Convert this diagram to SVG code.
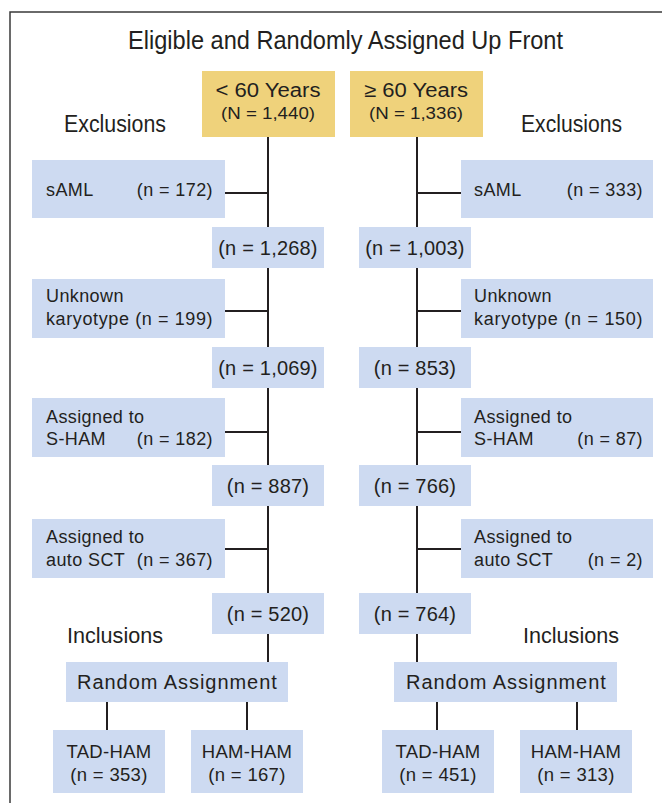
<svg xmlns="http://www.w3.org/2000/svg" width="662" height="803" viewBox="0 0 662 803">
<style>
.bg{fill:#ffffff}
.frame{fill:none;stroke:#3a3a3a;stroke-width:1.5}
.yel{fill:#efd27b}
.blu{fill:#cddaf1}
.ln{stroke:#231f20;stroke-width:2;fill:none}
.cond{font-family:"Liberation Sans",Arial,sans-serif;fill:#231f20}
.t{font-family:"Liberation Sans",Arial,sans-serif;fill:#231f20;font-size:18px;letter-spacing:0.4px}
.c{font-family:"Liberation Sans",Arial,sans-serif;fill:#231f20;font-size:20px;letter-spacing:0.2px;text-anchor:middle}
.b{font-family:"Liberation Sans",Arial,sans-serif;fill:#231f20;font-size:18.5px;letter-spacing:0.3px;text-anchor:middle}
.m{text-anchor:middle}
.e{text-anchor:end}
</style>
<rect class="bg" x="0" y="0" width="662" height="803"/>
<path class="frame" d="M10,803 V12 H662"/>
<text class="cond m" x="345.5" y="49" font-size="26" textLength="435" lengthAdjust="spacingAndGlyphs">Eligible and Randomly Assigned Up Front</text>
<text class="cond" x="64" y="132" font-size="23" textLength="102" lengthAdjust="spacingAndGlyphs">Exclusions</text>
<text class="cond" x="521" y="132" font-size="23" textLength="101" lengthAdjust="spacingAndGlyphs">Exclusions</text>
<text class="cond" x="67" y="643" font-size="22.5" textLength="96" lengthAdjust="spacingAndGlyphs">Inclusions</text>
<text class="cond" x="523" y="643" font-size="22.5" textLength="96" lengthAdjust="spacingAndGlyphs">Inclusions</text>
<g id="connectors">
<path class="ln" d="M268,137 V662"/>
<path class="ln" d="M417,137 V662"/>
<path class="ln" d="M225,193 H268 M225,311 H268 M225,432 H268 M225,549 H268"/>
<path class="ln" d="M417,193 H461 M417,311 H461 M417,432 H461 M417,549 H461"/>
<path class="ln" d="M107,702 V730 M247,702 V730"/>
<path class="ln" d="M437,702 V730 M577,702 V730"/>
</g>
<g id="young">
<rect class="yel" x="202" y="71" width="133" height="66"/>
<text class="cond m" x="268" y="97" font-size="20" textLength="105" lengthAdjust="spacingAndGlyphs">&lt; 60 Years</text>
<text class="cond m" x="268" y="119" font-size="16.5" textLength="94" lengthAdjust="spacingAndGlyphs">(N = 1,440)</text>
</g>
<g id="old">
<rect class="yel" x="350" y="71" width="133" height="66"/>
<text class="cond m" x="416" y="97" font-size="20" textLength="104" lengthAdjust="spacingAndGlyphs">≥ 60 Years</text>
<text class="cond m" x="416" y="119" font-size="16.5" textLength="94" lengthAdjust="spacingAndGlyphs">(N = 1,336)</text>
</g>
<g id="exL1"><rect class="blu" x="32" y="160" width="193" height="58"/><text class="t" x="46" y="196">sAML</text><text class="t e" x="213" y="196">(n = 172)</text></g>
<g id="exL2"><rect class="blu" x="32" y="279" width="193" height="59"/><text class="t" x="46" y="302">Unknown</text><text class="t" x="46" y="325" textLength="167">karyotype (n = 199)</text></g>
<g id="exL3"><rect class="blu" x="32" y="398" width="193" height="59"/><text class="t" x="46" y="423">Assigned to</text><text class="t" x="46" y="445">S-HAM</text><text class="t e" x="213" y="445">(n = 182)</text></g>
<g id="exL4"><rect class="blu" x="32" y="519" width="193" height="59"/><text class="t" x="46" y="543">Assigned to</text><text class="t" x="46" y="566">auto SCT</text><text class="t e" x="213" y="566">(n = 367)</text></g>
<g id="exR1"><rect class="blu" x="461" y="160" width="192" height="58"/><text class="t" x="474" y="196">sAML</text><text class="t e" x="643" y="196">(n = 333)</text></g>
<g id="exR2"><rect class="blu" x="461" y="279" width="192" height="59"/><text class="t" x="474" y="302">Unknown</text><text class="t" x="474" y="325" textLength="169">karyotype (n = 150)</text></g>
<g id="exR3"><rect class="blu" x="461" y="398" width="192" height="59"/><text class="t" x="474" y="423">Assigned to</text><text class="t" x="474" y="445">S-HAM</text><text class="t e" x="643" y="445">(n = 87)</text></g>
<g id="exR4"><rect class="blu" x="461" y="519" width="192" height="59"/><text class="t" x="474" y="543">Assigned to</text><text class="t" x="474" y="566">auto SCT</text><text class="t e" x="643" y="566">(n = 2)</text></g>
<g id="nL1"><rect class="blu" x="212" y="227" width="112" height="41"/><text class="c" x="268" y="255">(n = 1,268)</text></g>
<g id="nL2"><rect class="blu" x="212" y="347" width="112" height="41"/><text class="c" x="268" y="375">(n = 1,069)</text></g>
<g id="nL3"><rect class="blu" x="212" y="465" width="112" height="41"/><text class="c" x="268" y="493">(n = 887)</text></g>
<g id="nL4"><rect class="blu" x="212" y="593" width="112" height="41"/><text class="c" x="268" y="621">(n = 520)</text></g>
<g id="nR1"><rect class="blu" x="359" y="227" width="112" height="41"/><text class="c" x="415" y="255">(n = 1,003)</text></g>
<g id="nR2"><rect class="blu" x="359" y="347" width="112" height="41"/><text class="c" x="415" y="375">(n = 853)</text></g>
<g id="nR3"><rect class="blu" x="359" y="465" width="112" height="41"/><text class="c" x="415" y="493">(n = 766)</text></g>
<g id="nR4"><rect class="blu" x="359" y="593" width="112" height="41"/><text class="c" x="415" y="621">(n = 764)</text></g>
<g id="raL"><rect class="blu" x="66" y="662" width="222" height="40"/><text class="c" x="177" y="689" font-size="20.5" textLength="200">Random Assignment</text></g>
<g id="raR"><rect class="blu" x="394" y="662" width="223" height="40"/><text class="c" x="506" y="689" font-size="20.5" textLength="200">Random Assignment</text></g>
<g id="tadL"><rect class="blu" x="53" y="730" width="112" height="63"/><text class="b" x="109" y="758">TAD-HAM</text><text class="b" x="109" y="781">(n = 353)</text></g>
<g id="hamL"><rect class="blu" x="191" y="730" width="112" height="63"/><text class="b" x="247" y="758">HAM-HAM</text><text class="b" x="247" y="781">(n = 167)</text></g>
<g id="tadR"><rect class="blu" x="382" y="730" width="112" height="63"/><text class="b" x="438" y="758">TAD-HAM</text><text class="b" x="438" y="781">(n = 451)</text></g>
<g id="hamR"><rect class="blu" x="520" y="730" width="112" height="63"/><text class="b" x="576" y="758">HAM-HAM</text><text class="b" x="576" y="781">(n = 313)</text></g>
</svg>
